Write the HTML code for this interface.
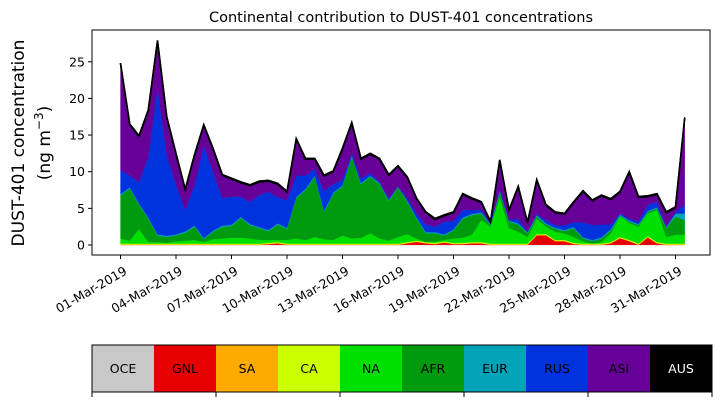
<!DOCTYPE html>
<html><head><meta charset="utf-8"><style>
body{margin:0;background:#fff;}
svg{display:block;font-family:"DejaVu Sans","Liberation Sans",sans-serif;}
</style></head><body>
<svg id="chart" width="721" height="402" viewBox="0 0 721 402">
<text x="401" y="22" font-size="14.5" text-anchor="middle">Continental contribution to DUST-401 concentrations</text>
<text transform="translate(24,143) rotate(-90)" font-size="17" text-anchor="middle">DUST-401 concentration</text>
<text transform="translate(50,143) rotate(-90)" font-size="17" text-anchor="middle">(ng m<tspan font-size="12" dy="-7">−3</tspan><tspan dy="7">)</tspan></text>
<g id="areas"></g>
<g id="axes"></g>
<g id="cbar"></g>
</svg>
<script>
const regions=["OCE","GNL","SA","CA","NA","AFR","EUR","RUS","ASI","AUS"];
const colors=["#c8c8c8","#e60000","#ffaa00","#ccff00","#00e000","#009a0e","#00a3b8","#0033dd","#660099","#000000"];
const yTicks=[0,5,10,15,20,25];
const xTickLabels=["01-Mar-2019","04-Mar-2019","07-Mar-2019","10-Mar-2019","13-Mar-2019","16-Mar-2019","19-Mar-2019","22-Mar-2019","25-Mar-2019","28-Mar-2019","31-Mar-2019"];
const xTickDays=[0,3,6,9,12,15,18,21,24,27,30];
// half-daily values from 01-Mar 00:00
const GNL=[0,0,0,0,0,0,0,0,0,0,0,0,0,0,0,0,0.1,0.2,0,0,0,0,0,0,0,0,0,0,0,0,0,0.2,0.4,0.2,0.1,0.3,0.1,0.1,0.2,0.2,0,0,0,0,0,1.3,1.3,0.5,0.5,0.1,0,0,0,0.2,0.9,0.5,0,1.0,0.2,0,0,0];
const NA=[0.7,0.4,2.0,0.2,0.2,0.1,0.3,0.4,0.5,0.2,0.6,0.7,0.8,0.8,0.7,0.5,0.4,0.3,0.5,0.7,0.5,0.9,0.6,0.5,1.1,0.7,0.8,1.4,0.7,0.4,0.9,1.1,0.3,0.02,0.2,0.2,0.6,0.7,1.0,3.0,2.3,6.3,2.1,1.6,0.9,2.1,1.0,1.1,0.9,0.8,0.3,0.02,0.2,1.2,2.8,2.3,2.3,3.1,4.4,0.9,1.2,1.2];
const AFR=[5.9,7.1,3.3,3.2,0.9,0.8,0.8,1.1,1.8,0.4,1.0,1.6,1.6,2.7,1.8,1.6,1.2,2.1,1.5,5.5,6.8,8.2,3.7,6.3,6.7,11.1,7.3,7.7,7.4,5.4,6.8,4.4,2.7,1.2,1.1,0.6,1.1,2.6,2.7,0.9,0.2,0.7,0.9,1.0,0.5,0.3,0.3,0.4,0.3,1.2,0.4,0.3,0.5,0.4,0.1,0.2,0.2,0.2,0.2,1.2,2.5,2.0];
const EUR=[0.15,0.15,0.15,0.15,0.15,0.15,0.15,0.15,0.15,0.15,0.15,0.15,0.15,0.15,0.15,0.15,0.15,0.15,0.15,0.15,0.15,0.15,0.15,0.15,0.15,0.15,0.15,0.15,0.15,0.15,0.05,0.15,0.15,0.15,0.15,0.15,0.15,0.15,0.15,0.15,0.15,0.15,0.15,0.15,0.15,0.15,0.15,0.15,0.15,0.15,0.15,0.15,0.15,0.15,0.15,0.15,0.15,0.15,0.15,0.15,0.4,0.9];
const RUS=[3.25,1.65,2.95,8.25,19.95,11.05,6.75,2.95,5.55,12.65,8.05,3.75,3.85,2.75,3.05,4.35,5.25,3.55,3.75,2.95,1.85,0.95,2.75,1.15,0.75,0.35,0.65,0.35,0.15,0.25,0.05,0.35,0.55,1.05,0.75,1.75,1.15,1.05,0.55,0.35,0.15,0.25,0.05,0.65,0.05,0.15,0.45,0.35,0.65,0.65,2.05,2.05,1.75,0.65,0.15,0.25,0.35,0.85,0.75,0.05,0.2,1.2];
const ASI=[14.5,6.9,6.2,6.3,6.4,5.1,4.2,2.7,4.0,2.7,3.1,3.1,2.4,1.9,2.2,1.8,1.4,1.8,1.1,4.9,2.2,1.3,2.0,1.7,4.2,4.1,2.6,2.6,3.1,3.1,2.7,2.8,2.0,1.6,1.0,0.8,1.1,2.1,1.5,1.0,0.1,3.9,1.3,4.3,1.2,4.6,2.0,1.7,1.5,2.7,4.2,3.3,3.9,3.4,2.9,6.3,3.3,1.1,1.0,1.9,0.6,11.8];
const N=GNL.length;
const OCE=new Array(N).fill(0.02);
const SA=new Array(N).fill(0.05);
const CA=new Array(N).fill(0.12);
const AUS=new Array(N).fill(0.12);
const series=[OCE,GNL,SA,CA,NA,AFR,EUR,RUS,ASI,AUS];

const X0=92,X1=710,Y0=30,Y1=255;
const xDay0=120.5,pxDay=18.5;
const xs=i=>xDay0+pxDay*i/2;
const xd=d=>xDay0+pxDay*d;
const ys=v=>245-v*7.33;
const NS="http://www.w3.org/2000/svg";
function mk(tag,attrs,parent){const e=document.createElementNS(NS,tag);for(const k in attrs)e.setAttribute(k,attrs[k]);parent.appendChild(e);return e;}

const areas=document.getElementById('areas');
let base=new Array(N).fill(0);
series.forEach((s,k)=>{
  const top=base.map((b,i)=>b+s[i]);
  let d="M"+xs(0)+","+ys(top[0]);
  for(let i=1;i<N;i++)d+="L"+xs(i)+","+ys(top[i]);
  for(let i=N-1;i>=0;i--)d+="L"+xs(i)+","+ys(base[i]);
  d+="Z";
  const p=mk('path',{d:d,fill:colors[k],stroke:colors[k],'stroke-width':k==9?1.5:0.3},areas);
  
  
  base=top;
});
let dl="M"+xs(0)+","+ys(base[0]);
for(let i=1;i<N;i++)dl+="L"+xs(i)+","+ys(base[i]);
const tl=mk('path',{d:dl,fill:'none',stroke:'#000','stroke-width':1.6},areas);



const ax=document.getElementById('axes');
const fr=mk('rect',{x:X0,y:Y0,width:X1-X0,height:Y1-Y0,fill:'none',stroke:'#000','stroke-width':1},ax);


yTicks.forEach(v=>{
  mk('line',{x1:X0-4,x2:X0,y1:ys(v),y2:ys(v),stroke:'#000'},ax);
  const t=mk('text',{x:X0-7,y:ys(v)+4.5,'font-size':12.5,'text-anchor':'end'},ax);
  t.textContent=v;
  
  
});
xTickDays.forEach((d,j)=>{
  const x=xd(d);
  mk('line',{x1:x,x2:x,y1:Y1,y2:Y1+4,stroke:'#000'},ax);
  const t=mk('text',{transform:`translate(${x+3},${Y1+11}) rotate(-30)`,'font-size':12.5,'text-anchor':'end',dy:'0.7em'},ax);
  t.textContent=xTickLabels[j];
  
  
});

const cb=document.getElementById('cbar');
const CX=92,CW=62,CY=345,CH=47;
regions.forEach((r,k)=>{
  const rc=mk('rect',{x:CX+k*CW,y:CY,width:CW,height:CH,fill:colors[k]},cb);
  
  
  const t=mk('text',{x:CX+k*CW+CW/2,y:CY+CH/2+4.5,'font-size':12.5,'text-anchor':'middle',fill:k==9?'#fff':'#000'},cb);
  t.textContent=r;
  
  
});
const cf=mk('rect',{x:CX,y:CY,width:CW*10,height:CH,fill:'none',stroke:'#000'},cb);


for(let k=0;k<=10;k+=2){mk('line',{x1:CX+k*CW,x2:CX+k*CW,y1:CY+CH,y2:CY+CH+5,stroke:'#000'},cb);}
</script>
</body></html>
